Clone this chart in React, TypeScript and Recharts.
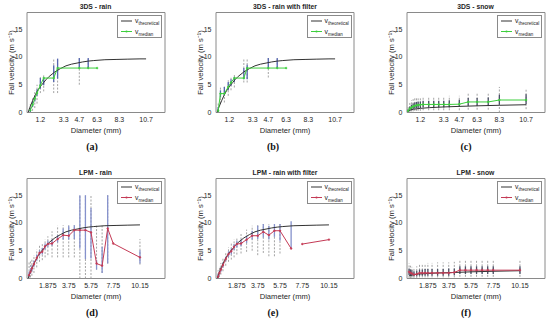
import React from 'react';
import { ComposedChart, Line, XAxis, YAxis, ReferenceLine, ReferenceArea, Legend, Label } from 'recharts';

// bin rows: [diameter, median, q25, q75, low, high]  (null = nothing drawn)
type Bin = [number, number | null, number | null, number | null, number | null, number | null];

const ticks3ds = [1.2, 3.3, 4.7, 6.3, 8.3, 10.7];
const ticksLpm = [1.875, 3.75, 5.75, 7.75, 10.15];
const yTicks = [0, 5, 10, 15];

// theoretical fall velocity curves
const rainTheoD = [0.1, 0.25, 0.5, 0.75, 1, 1.25, 1.5, 1.75, 2, 2.5, 3, 3.5, 4, 4.5, 5, 5.5, 6, 7, 8, 9, 10.15, 10.7];
const rainTheoV = [0, 0.9, 2.1, 3.2, 4.1, 4.8, 5.4, 6.0, 6.5, 7.3, 7.9, 8.4, 8.7, 8.9, 9.1, 9.25, 9.35, 9.5, 9.55, 9.6, 9.65, 9.65];
const snow3dsTheoD = [0.1, 0.3, 0.6, 1.2, 2.0, 3.3, 4.7, 6.3, 8.3, 10.7];
const snow3dsTheoV = [0.3, 0.45, 0.6, 0.75, 0.87, 1.0, 1.1, 1.2, 1.3, 1.4];
const snowLpmTheoD = [0.19, 0.5, 1, 1.875, 2.75, 3.75, 4.75, 5.75, 7.75, 10.15];
const snowLpmTheoV = [0.5, 0.65, 0.8, 0.9, 1.0, 1.05, 1.12, 1.2, 1.3, 1.4];

const bins3dsRain: Bin[] = [
  [0.3, 0.4, 0.1, 0.8, 0.0, 1.5],
  [0.5, 1.4, 1.0, 2.0, 0.3, 2.8],
  [0.7, 2.5, 2.0, 3.0, 0.8, 4.0],
  [0.9, 3.5, 3.0, 4.2, 1.6, 5.0],
  [1.2, 4.9, 4.3, 6.2, 3.5, 6.6],
  [1.5, 6.2, 4.9, 6.3, 3.8, 6.7],
  [2.4, 6.2, 5.5, 8.5, 3.5, 9.8],
  [2.75, 8.0, 6.1, 9.7, 3.5, 9.8],
  [4.7, 8.0, 8.0, 9.8, 5.0, 9.8],
  [5.5, 8.0, 8.0, 9.8, 8.0, 9.8],
  [6.3, 8.0, null, null, null, null],
];

const bins3dsRainFilt: Bin[] = [
  [0.2, 0.3, 0.1, 1.0, 0.0, 1.8],
  [0.4, 3.4, 2.7, 4.0, 1.6, 4.6],
  [0.75, 3.4, 3.1, 4.6, 1.8, 4.8],
  [1.1, 4.6, 4.0, 5.5, 3.0, 5.8],
  [1.35, 5.4, 4.8, 6.0, 4.0, 6.4],
  [1.65, 6.2, 5.5, 6.4, 4.5, 6.8],
  [2.5, 6.2, 6.0, 8.0, 5.4, 9.8],
  [2.8, 8.0, 6.0, 8.6, 5.4, 9.8],
  [4.7, 8.0, 8.0, 9.8, 6.3, 9.8],
  [5.5, 8.0, 8.0, 9.8, 8.0, 9.8],
  [6.3, 8.0, null, null, null, null],
];

const bins3dsSnow: Bin[] = [
  [0.1, 0.3, 0.1, 0.6, 0.0, 1.2],
  [0.25, 0.7, 0.3, 1.1, 0.1, 1.8],
  [0.4, 0.9, 0.5, 1.4, 0.2, 2.2],
  [0.55, 1.1, 0.6, 1.6, 0.2, 2.4],
  [0.7, 1.2, 0.7, 1.8, 0.3, 2.6],
  [0.85, 1.3, 0.8, 1.9, 0.3, 2.7],
  [1.0, 1.35, 0.8, 2.0, 0.3, 2.8],
  [1.2, 1.4, 0.8, 2.0, 0.3, 2.8],
  [1.45, 1.45, 0.9, 2.1, 0.4, 2.9],
  [1.95, 1.45, 0.9, 2.1, 0.4, 2.9],
  [2.4, 1.45, 0.9, 2.1, 0.4, 2.9],
  [2.85, 1.45, 0.9, 2.1, 0.4, 2.9],
  [3.3, 1.45, 0.9, 2.1, 0.4, 2.9],
  [3.8, 1.45, 0.9, 2.2, 0.4, 3.0],
  [4.7, 1.5, 1.0, 2.3, 0.4, 3.0],
  [5.5, 1.9, 1.2, 2.6, 0.5, 3.4],
  [6.3, 1.9, 1.2, 2.6, 0.5, 3.4],
  [7.3, 1.9, 1.2, 2.7, 0.5, 3.5],
  [8.3, 2.25, 1.4, 3.2, 0.0, 4.6],
  [10.7, 2.25, 1.5, 3.3, 0.6, 4.1],
];

const binsLpmRain: Bin[] = [
  [0.1875, 0.6, 0.3, 1.2, 0.0, 3.0],
  [0.3125, 1.2, 0.8, 1.8, 0.2, 3.2],
  [0.4375, 1.8, 1.3, 2.4, 0.5, 3.5],
  [0.625, 2.6, 2.1, 3.2, 1.0, 4.2],
  [0.875, 3.7, 3.2, 4.3, 2.0, 5.2],
  [1.125, 4.6, 4.1, 5.1, 3.0, 6.0],
  [1.375, 4.8, 4.3, 5.5, 3.3, 6.4],
  [1.625, 5.8, 5.2, 6.3, 3.8, 7.0],
  [1.875, 6.2, 5.7, 6.8, 4.2, 7.6],
  [2.25, 6.3, 5.9, 7.0, 3.8, 8.5],
  [2.75, 7.1, 6.5, 7.8, 3.8, 9.5],
  [3.25, 7.8, 7.0, 9.0, 3.8, 9.6],
  [3.75, 7.7, 7.0, 9.5, 3.8, 9.6],
  [4.25, 8.7, 7.1, 9.6, 3.8, 9.6],
  [4.75, 8.7, 5.4, 15.0, 0.0, 15.0],
  [5.25, 8.7, 3.5, 15.0, 0.0, 15.0],
  [5.75, 8.3, 3.6, 12.7, 0.0, 15.0],
  [6.25, 2.7, 1.6, 3.3, 1.6, 9.5],
  [6.75, 2.3, 1.0, 5.7, 1.0, 9.5],
  [7.25, 9.0, 2.7, 15.0, 2.7, 15.0],
  [7.75, 6.3, null, null, null, null],
  [10.15, 3.8, 2.7, 5.1, 2.5, 7.1],
];

const binsLpmRainFilt: Bin[] = [
  [0.1875, 0.3, 0.1, 0.8, 0.0, 1.5],
  [0.3125, 1.0, 0.7, 1.4, 0.3, 2.2],
  [0.4375, 1.6, 1.2, 2.0, 0.7, 2.8],
  [0.625, 2.4, 2.0, 2.9, 1.3, 3.6],
  [0.875, 3.5, 3.1, 3.9, 2.3, 4.6],
  [1.125, 4.4, 3.9, 4.9, 3.0, 5.6],
  [1.375, 4.9, 4.3, 5.4, 3.4, 6.3],
  [1.625, 5.7, 5.1, 6.2, 3.8, 7.0],
  [1.875, 6.2, 5.6, 6.8, 4.3, 7.4],
  [2.25, 6.3, 5.8, 7.0, 4.5, 8.0],
  [2.75, 7.0, 6.4, 7.7, 4.8, 8.8],
  [3.25, 7.7, 7.0, 8.6, 5.0, 9.5],
  [3.75, 7.7, 7.1, 9.5, 4.2, 9.8],
  [4.25, 8.4, 7.4, 9.8, 4.6, 9.8],
  [4.75, 7.8, 7.0, 9.5, 4.0, 9.8],
  [5.25, 8.6, 7.5, 9.8, 4.0, 9.8],
  [5.75, 8.6, 6.8, 9.8, 4.5, 9.8],
  [6.75, 5.4, 5.4, 10.3, null, null],
  [7.25, null, null, null, null, null],
  [7.75, 6.2, null, null, null, null],
  [10.15, 7.0, null, null, null, null],
];

const binsLpmSnow: Bin[] = [
  [0.1875, 1.2, 0.6, 1.8, 0.1, 2.7],
  [0.3125, 1.0, 0.5, 1.6, 0.1, 2.3],
  [0.4375, 0.9, 0.4, 1.5, 0.1, 2.1],
  [0.625, 0.7, 0.4, 1.3, 0.1, 2.0],
  [0.875, 0.8, 0.4, 1.4, 0.1, 2.2],
  [1.125, 1.0, 0.5, 1.6, 0.2, 2.5],
  [1.375, 1.0, 0.5, 1.6, 0.2, 2.6],
  [1.625, 1.0, 0.5, 1.7, 0.2, 2.7],
  [1.875, 1.0, 0.5, 1.7, 0.2, 2.8],
  [2.25, 1.0, 0.5, 1.7, 0.2, 2.8],
  [2.75, 1.0, 0.5, 1.7, 0.2, 2.9],
  [3.25, 1.0, 0.5, 1.7, 0.2, 2.9],
  [3.75, 1.0, 0.5, 1.8, 0.2, 2.9],
  [4.25, 1.1, 0.6, 1.8, 0.2, 3.0],
  [4.75, 1.5, 0.8, 2.2, 0.3, 3.3],
  [5.25, 1.5, 0.8, 2.2, 0.3, 3.3],
  [5.75, 1.5, 0.8, 2.2, 0.3, 3.3],
  [6.25, 1.5, 0.8, 2.2, 0.3, 3.3],
  [6.75, 1.5, 0.8, 2.2, 0.3, 3.3],
  [7.25, 1.5, 0.8, 2.2, 0.3, 3.3],
  [7.75, 1.5, 0.8, 2.2, 0.3, 3.3],
  [10.15, 1.5, 0.8, 2.2, 0.3, 3.3],
];

const FONT = '"Liberation Sans", Arial, Helvetica, sans-serif';
const INK = '#262626';
const BOX = '#8a8a8a';
const THEO = '#333333';
const GREEN = '#3dce3d';
const RED = '#c43a55';
const BLUE_3DS = '#5666b0';
const BLUE_LPM = '#8591cc';
const DARK_BAR = '#4a4f66';
const DASH = '#9a9a9a';
const XMAX = 12.4;

const panels = [
  { title: '3DS - rain', tag: '(a)', bins: bins3dsRain, theoD: rainTheoD, theoV: rainTheoV, theoMax: 10.7, ticks: ticks3ds, med: GREEN, iqr: BLUE_3DS, col: 0, row: 0 },
  { title: '3DS - rain with filter', tag: '(b)', bins: bins3dsRainFilt, theoD: rainTheoD, theoV: rainTheoV, theoMax: 10.7, ticks: ticks3ds, med: GREEN, iqr: BLUE_3DS, col: 1, row: 0 },
  { title: '3DS - snow', tag: '(c)', bins: bins3dsSnow, theoD: snow3dsTheoD, theoV: snow3dsTheoV, theoMax: 10.7, ticks: ticks3ds, med: GREEN, iqr: DARK_BAR, col: 2, row: 0 },
  { title: 'LPM - rain', tag: '(d)', bins: binsLpmRain, theoD: rainTheoD, theoV: rainTheoV, theoMax: 10.15, ticks: ticksLpm, med: RED, iqr: BLUE_LPM, col: 0, row: 1 },
  { title: 'LPM - rain with filter', tag: '(e)', bins: binsLpmRainFilt, theoD: rainTheoD, theoV: rainTheoV, theoMax: 10.15, ticks: ticksLpm, med: RED, iqr: BLUE_LPM, col: 1, row: 1 },
  { title: 'LPM - snow', tag: '(f)', bins: binsLpmSnow, theoD: snowLpmTheoD, theoV: snowLpmTheoV, theoMax: 10.15, ticks: ticksLpm, med: RED, iqr: DARK_BAR, col: 2, row: 1 },
];

const colX = [0.5, 190, 380.5];
const rowY = [0, 166];
const capX = [92, 273, 466];

const LegendBox = ({ color }: { color: string }) => (
  <div style={{ position: 'relative', width: 45, height: 23, boxSizing: 'border-box', border: `1px solid ${BOX}`, background: '#fff', fontFamily: FONT, color: INK }}>
    <svg width={45} height={23} style={{ position: 'absolute', left: -1, top: -1 }}>
      <line x1={4} y1={6} x2={15} y2={6} stroke={THEO} strokeWidth={1} />
      <line x1={4} y1={16.5} x2={15} y2={16.5} stroke={color} strokeWidth={1} />
      <circle cx={9.5} cy={16.5} r={1.1} fill={color} />
    </svg>
    <div style={{ position: 'absolute', left: 17, top: 0, fontSize: 6.8, lineHeight: '9px', whiteSpace: 'nowrap' }}>
      v<span style={{ fontSize: 4.5, position: 'relative', top: 2 }}>theoretical</span>
    </div>
    <div style={{ position: 'absolute', left: 17, top: 10.5, fontSize: 6.8, lineHeight: '9px', whiteSpace: 'nowrap' }}>
      v<span style={{ fontSize: 4.5, position: 'relative', top: 2 }}>median</span>
    </div>
  </div>
);

const Panel = ({ p }: { p: (typeof panels)[number] }) => {
  const theo = p.theoD.map((d, i) => ({ d, v: p.theoV[i] })).filter((r) => r.d <= p.theoMax);
  const med = p.bins.map((b) => ({ d: b[0], v: b[1] }));
  const ranges = p.bins.filter((b) => b[4] != null && b[5] != null && (b[5] as number) > (b[4] as number));
  const iqrs = p.bins.filter((b) => b[2] != null && b[3] != null && (b[3] as number) > (b[2] as number));
  const left = colX[p.col];
  const top = rowY[p.row];
  const tick = { fontSize: 7, fill: INK, fontFamily: FONT };

  return (
    <>
      <div style={{ position: 'absolute', left, top }}>
        <ComposedChart width={180} height={150} margin={{ top: 12.5, right: 16, bottom: 0, left: 0 }} style={{ fontFamily: FONT }}>
          <XAxis type="number" dataKey="d" domain={[0, XMAX]} ticks={p.ticks} interval={0} allowDataOverflow
            axisLine={false} tickLine={false} tickSize={3} tickMargin={1.5} tick={tick} height={37.5}>
            <Label value="Diameter (mm)" position="insideBottom" offset={17} style={{ fontSize: 7.6, fill: INK }} />
          </XAxis>
          <YAxis type="number" domain={[0, 18]} ticks={yTicks} interval={0} allowDataOverflow width={26}
            axisLine={false} tickLine={false} tickSize={3} tickMargin={1.5} tick={tick}>
            <Label value="Fall velocity (m s⁻¹)" angle={-90} position="insideLeft" offset={10}
              style={{ fontSize: 7.6, fill: INK, textAnchor: 'middle' }} />
          </YAxis>
          <ReferenceArea x1={0} x2={XMAX} y1={0} y2={18} fill="none" stroke={BOX} strokeWidth={1} ifOverflow="visible" />
          {ranges.map((b, i) => (
            <ReferenceLine key={`r${i}`} segment={[{ x: b[0], y: b[4] as number }, { x: b[0], y: b[5] as number }]}
              stroke={DASH} strokeWidth={0.9} strokeDasharray="2 1.5" ifOverflow="visible" />
          ))}
          {iqrs.map((b, i) => (
            <ReferenceLine key={`q${i}`} segment={[{ x: b[0], y: b[2] as number }, { x: b[0], y: b[3] as number }]}
              stroke={p.iqr} strokeWidth={1.3} ifOverflow="visible" />
          ))}
          <Line data={theo} dataKey="v" type="linear" stroke={THEO} strokeWidth={1} dot={false} isAnimationActive={false} />
          <Line data={med} dataKey="v" type="linear" stroke={p.med} strokeWidth={1} connectNulls={false}
            dot={{ r: 0.9, fill: p.med, stroke: p.med, strokeWidth: 0.5 }} isAnimationActive={false} />
          <Legend layout="horizontal" verticalAlign="middle" align="center"
            wrapperStyle={{ left: 116.5, top: 15, width: 45, height: 23 }}
            content={() => <LegendBox color={p.med} />} />
        </ComposedChart>
      </div>
      <div style={{ position: 'absolute', left: left + 26, top: top + 3, width: 138, textAlign: 'center', fontFamily: FONT, fontWeight: 'bold', fontSize: 6.8, lineHeight: '8px', color: INK, whiteSpace: 'nowrap' }}>
        {p.title}
      </div>
      <div style={{ position: 'absolute', left: capX[p.col] - 20, top: top + 141, width: 40, textAlign: 'center', fontFamily: '"Liberation Serif", "DejaVu Serif", serif', fontWeight: 'bold', fontSize: 10, lineHeight: '11px', color: '#111' }}>
        {p.tag}
      </div>
    </>
  );
}

export default function App() {
  return (
    <div style={{ position: 'absolute', left: 0, top: 0, width: 550, height: 321, background: '#fff', overflow: 'hidden' }}>
      {panels.map((p) => (
        <Panel key={p.tag} p={p} />
      ))}
    </div>
  );
}
